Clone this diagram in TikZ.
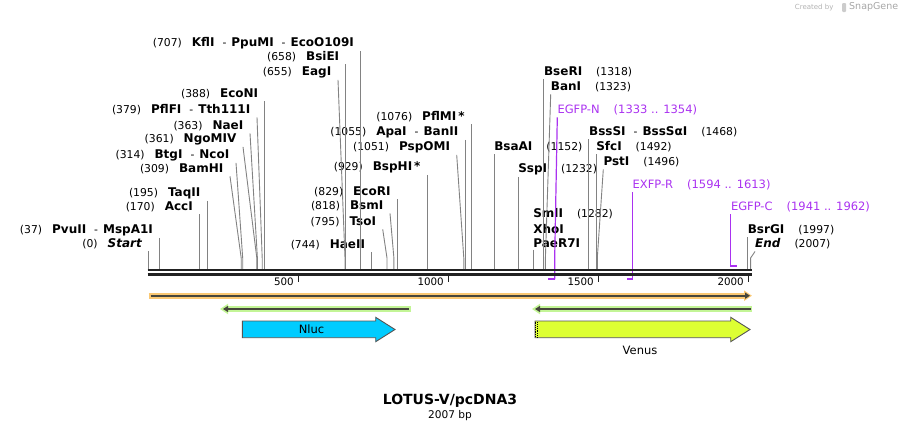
\documentclass[tikz,border=0pt]{standalone}
\usepackage{fontspec}
\setmainfont{DejaVu Sans}
\usetikzlibrary{arrows.meta}

\definecolor{cutline}{RGB}{130,130,130}
\definecolor{rulercolor}{RGB}{34,34,34}
\definecolor{primercolor}{RGB}{170,50,240}
\definecolor{orangehalo}{RGB}{250,200,115}
\definecolor{greenhalo}{RGB}{195,245,150}
\definecolor{featline}{RGB}{70,70,60}
\definecolor{nluccolor}{RGB}{0,204,255}
\definecolor{venuscolor}{RGB}{221,255,51}
\definecolor{featborder}{RGB}{85,85,85}

\newcommand{\bpnum}[1]{{\fontsize{10.8}{12}\selectfont(#1)}}
\newcommand{\enz}[1]{{\fontsize{12}{13}\selectfont\bfseries #1}}
\newcommand{\enzsep}{\hspace{8pt}{\fontsize{10.8}{12}\selectfont-}\hspace{5pt}}

\begin{document}
\begin{tikzpicture}[
    x=1pt, y=-1pt,
    font=\fontsize{11.5}{13}\selectfont,
    %% pixel grid: x = 148.5 + 0.3*bp, ruler at y = 270..274
    lsite/.style={inner sep=0pt, anchor=east},
    rsite/.style={inner sep=0pt, anchor=west},
    primer/.style={inner sep=0pt, anchor=west, text=primercolor},
    cut/.style={draw=cutline, line width=0.9pt},
    pline/.style={draw=primercolor, line width=1.2pt},
    pbar/.style={draw=primercolor, line width=2.2pt},
    ruler/.style={draw=rulercolor, line width=2.2pt},
    tickmark/.style={draw=rulercolor, line width=1.8pt},
    ticklbl/.style={inner sep=0pt, anchor=east, font=\fontsize{10.3}{12}\selectfont},
    orgband/.style={draw=orangehalo, line width=6pt, -{Triangle[length=8pt,width=10pt]}},
    grnband/.style={draw=greenhalo, line width=6pt, {Triangle[length=8pt,width=10pt]}-},
    fwdline/.style={draw=featline, line width=2.2pt, -{Triangle[length=5pt,width=6pt]}},
    revline/.style={draw=featline, line width=2.2pt, {Triangle[length=5pt,width=6pt]}-},
    featbox/.style={draw=featborder, line width=0.9pt},
]
\useasboundingbox (0,0) rectangle (900,432);

%% ── Watermark ────────────────────────────────────────────────────────────
\node[anchor=east, text=black!30, font=\fontsize{7}{8}\selectfont] (cby) at (837,7.5) {Created by};
\fill[black!20, rounded corners=1pt] (842,3) rectangle (846,12);
\node[anchor=west, inner sep=0pt, text=black!35, font=\fontsize{9.5}{10}\selectfont] (sgene) at (849,7) {SnapGene};

%% ── Site positions on the ruler ─────────────────────────────────────────
\coordinate (knee) at (0,258);
\coordinate (s0)    at (148.5,269);
\coordinate (s37)   at (159.6,269);
\coordinate (s170)  at (199.5,269);
\coordinate (s195)  at (207.0,269);
\coordinate (s309)  at (241.2,269);
\coordinate (s314)  at (242.7,269);
\coordinate (s361)  at (256.8,269);
\coordinate (s363)  at (257.4,269);
\coordinate (s379)  at (262.2,269);
\coordinate (s388)  at (264.9,269);
\coordinate (s655)  at (345.0,269);
\coordinate (s658)  at (345.9,269);
\coordinate (s707)  at (360.6,269);
\coordinate (s744)  at (371.7,269);
\coordinate (s795)  at (387.0,269);
\coordinate (s818)  at (393.9,269);
\coordinate (s829)  at (397.2,269);
\coordinate (s929)  at (427.2,269);
\coordinate (s1051) at (463.8,269);
\coordinate (s1055) at (465.0,269);
\coordinate (s1076) at (471.3,269);
\coordinate (s1152) at (494.1,269);
\coordinate (s1232) at (518.1,269);
\coordinate (s1282) at (533.1,269);
\coordinate (s1318) at (543.9,269);
\coordinate (s1323) at (545.4,269);
\coordinate (s1468) at (588.9,269);
\coordinate (s1492) at (596.1,269);
\coordinate (s1496) at (597.3,269);
\coordinate (s1997) at (747.6,269);
\coordinate (s2007) at (750.6,269);

%% ── Left-hand site labels ───────────────────────────────────────────────
\node[lsite] (kfl)   at (354.1,43)  {\bpnum{707}\hspace{10pt}\enz{KflI}\enzsep\enz{PpuMI}\enzsep\enz{EcoO109I}};
\node[lsite] (bsie)  at (339.4,57)  {\bpnum{658}\hspace{10pt}\enz{BsiEI}};
\node[lsite] (eag)   at (331.5,72)  {\bpnum{655}\hspace{10pt}\enz{EagI}};
\node[lsite] (econ)  at (258.4,94)  {\bpnum{388}\hspace{10pt}\enz{EcoNI}};
\node[lsite] (pflf)  at (250.5,110) {\bpnum{379}\hspace{10pt}\enz{PflFI}\enzsep\enz{Tth111I}};
\node[lsite] (nae)   at (243.5,126) {\bpnum{363}\hspace{10pt}\enz{NaeI}};
\node[lsite] (ngo)   at (236.5,139) {\bpnum{361}\hspace{10pt}\enz{NgoMIV}};
\node[lsite] (btg)   at (229.5,155) {\bpnum{314}\hspace{10pt}\enz{BtgI}\enzsep\enz{NcoI}};
\node[lsite] (bam)   at (223.5,169) {\bpnum{309}\hspace{10pt}\enz{BamHI}};
\node[lsite] (taq)   at (200.5,193) {\bpnum{195}\hspace{10pt}\enz{TaqII}};
\node[lsite] (acc)   at (193.0,207) {\bpnum{170}\hspace{10pt}\enz{AccI}};
\node[lsite] (pvu)   at (153.1,230) {\bpnum{37}\hspace{10pt}\enz{PvuII}\enzsep\enz{MspA1I}};
\node[lsite] (start) at (142.0,244) {\bpnum{0}\hspace{10pt}\enz{\itshape Start}};

\node[lsite] (pflm)  at (464.8,117) {\bpnum{1076}\hspace{10pt}\enz{PflMI\,*}};
\node[lsite] (apa)   at (458.5,132) {\bpnum{1055}\hspace{10pt}\enz{ApaI}\enzsep\enz{BanII}};
\node[lsite] (pspo)  at (450.2,147) {\bpnum{1051}\hspace{10pt}\enz{PspOMI}};
\node[lsite] (bsph)  at (420.7,167) {\bpnum{929}\hspace{10pt}\enz{BspHI\,*}};
\node[lsite] (ecor)  at (390.7,192) {\bpnum{829}\hspace{10pt}\enz{EcoRI}};
\node[lsite] (bsm)   at (383.5,206) {\bpnum{818}\hspace{10pt}\enz{BsmI}};
\node[lsite] (tso)   at (376.2,222) {\bpnum{795}\hspace{10pt}\enz{TsoI}};
\node[lsite] (hae)   at (365.2,245) {\bpnum{744}\hspace{10pt}\enz{HaeII}};

%% ── Right-hand site labels ──────────────────────────────────────────────
\node[rsite] (bser)  at (543.9,72)  {\enz{BseRI}\hspace{14pt}\bpnum{1318}};
\node[rsite] (ban)   at (550.7,87)  {\enz{BanI}\hspace{14pt}\bpnum{1323}};
\node[rsite] (bsss)  at (588.9,132) {\enz{BssSI}\enzsep\enz{BssSαI}\hspace{14pt}\bpnum{1468}};
\node[rsite] (bsaa)  at (494.1,147) {\enz{BsaAI}\hspace{14pt}\bpnum{1152}};
\node[rsite] (sfc)   at (596.1,147) {\enz{SfcI}\hspace{14pt}\bpnum{1492}};
\node[rsite] (pst)   at (603.3,162) {\enz{PstI}\hspace{14pt}\bpnum{1496}};
\node[rsite] (ssp)   at (518.1,169) {\enz{SspI}\hspace{14pt}\bpnum{1232}};
\node[rsite] (sml)   at (533.1,214) {\enz{SmlI}\hspace{14pt}\bpnum{1282}};
\node[rsite] (xho)   at (533.1,229) {\enz{XhoI}};
\node[rsite] (paer)  at (533.1,243) {\enz{PaeR7I}};
\node[rsite] (bsrg)  at (747.6,230) {\enz{BsrGI}\hspace{14pt}\bpnum{1997}};
\node[rsite] (endl)  at (755.0,244) {\enz{\itshape End}\hspace{14pt}\bpnum{2007}};

%% ── Primers ─────────────────────────────────────────────────────────────
\node[primer] (egfpn) at (557.3,110) {EGFP-N\hspace{14pt}(1333 .. 1354)};
\node[primer] (exfpr) at (632.4,185) {EXFP-R\hspace{14pt}(1594 .. 1613)};
\node[primer] (egfpc) at (730.8,207) {EGFP-C\hspace{14pt}(1941 .. 1962)};

\coordinate (pnE) at (554.7,279);  \coordinate (pnW) at (548.4,279);
\coordinate (prE) at (632.4,279);  \coordinate (prW) at (626.7,279);
\coordinate (pcW) at (730.8,266);  \coordinate (pcE) at (737.1,266);

\draw[pline] ([yshift=-2pt]egfpn.south west) -- (pnE |- knee) -- (pnE);
\draw[pline] ([yshift=-2pt]exfpr.south west) -- (prE);
\draw[pline] ([yshift=-2pt]egfpc.south west) -- (pcW);
\draw[pbar] ([xshift=0.6pt]pnE) -- (pnW);
\draw[pbar] ([xshift=0.6pt]prE) -- (prW);
\draw[pbar] ([xshift=-0.6pt]pcW) -- (pcE);

%% ── Cut-site connectors ─────────────────────────────────────────────────
\draw[cut] ([xshift=6.5pt,yshift=-2pt]kfl.south east)   -- (s707 |- knee)  -- (s707);
\draw[cut] ([xshift=6.5pt,yshift=-2pt]bsie.south east)  -- (s658 |- knee)  -- (s658);
\draw[cut] ([xshift=6.5pt,yshift=-2pt]eag.south east)   -- (s655 |- knee)  -- (s655);
\draw[cut] ([xshift=6.5pt,yshift=-2pt]econ.south east)  -- (s388 |- knee)  -- (s388);
\draw[cut] ([xshift=6.5pt,yshift=-2pt]pflf.south east)  -- (s379 |- knee)  -- (s379);
\draw[cut] ([xshift=6.5pt,yshift=-2pt]nae.south east)   -- (s363 |- knee)  -- (s363);
\draw[cut] ([xshift=6.5pt,yshift=-2pt]ngo.south east)   -- (s361 |- knee)  -- (s361);
\draw[cut] ([xshift=6.5pt,yshift=-2pt]btg.south east)   -- (s314 |- knee)  -- (s314);
\draw[cut] ([xshift=6.5pt,yshift=-2pt]bam.south east)   -- (s309 |- knee)  -- (s309);
\draw[cut] ([xshift=6.5pt,yshift=-2pt]taq.south east)   -- (s195);
\draw[cut] ([xshift=6.5pt,yshift=-2pt]acc.south east)   -- (s170);
\draw[cut] ([xshift=6.5pt,yshift=-2pt]pvu.south east)   -- (s37);
\draw[cut] ([xshift=6.5pt,yshift=-2pt]start.south east) -- (s0);
\draw[cut] ([xshift=6.5pt,yshift=-2pt]pflm.south east)  -- (s1076);
\draw[cut] ([xshift=6.5pt,yshift=-2pt]apa.south east)   -- (s1055);
\draw[cut] ([xshift=6.5pt,yshift=-2pt]pspo.south east)  -- (s1051 |- knee) -- (s1051);
\draw[cut] ([xshift=6.5pt,yshift=-2pt]bsph.south east)  -- (s929);
\draw[cut] ([xshift=6.5pt,yshift=-2pt]ecor.south east)  -- (s829);
\draw[cut] ([xshift=6.5pt,yshift=-2pt]bsm.south east)   -- (s818 |- knee)  -- (s818);
\draw[cut] ([xshift=6.5pt,yshift=-2pt]tso.south east)   -- (s795 |- knee)  -- (s795);
\draw[cut] ([xshift=6.5pt,yshift=-2pt]hae.south east)   -- (s744);

\draw[cut] ([yshift=-2pt]bser.south west) -- (s1318);
\draw[cut] ([yshift=-2pt]ban.south west)  -- (s1323 |- knee) -- (s1323);
\draw[cut] ([yshift=-2pt]bsss.south west) -- (s1468);
\draw[cut] ([yshift=-2pt]bsaa.south west) -- (s1152);
\draw[cut] ([yshift=-2pt]sfc.south west)  -- (s1492);
\draw[cut] ([yshift=-2pt]pst.south west)  -- (s1496 |- knee) -- (s1496);
\draw[cut] ([yshift=-2pt]ssp.south west)  -- (s1232);
\draw[cut] ([yshift=-2pt]paer.south west) -- (s1282);
\draw[cut] ([yshift=-2pt]bsrg.south west) -- (s1997);
\draw[cut] ([yshift=-2pt]endl.south west) -- (s2007 |- knee) -- (s2007);

%% ── Ruler ───────────────────────────────────────────────────────────────
\coordinate (rulL) at (147.5,270);
\coordinate (rulR) at (751.5,270);
\draw[ruler] (rulL) -- (rulR);
\draw[ruler, line width=3pt] ([yshift=-4pt]rulL) -- ([yshift=-4pt]rulR);

\coordinate (t500)  at (298.5,275);
\coordinate (t1000) at (448.5,275);
\coordinate (t1500) at (598.5,275);
\coordinate (t2000) at (748.5,275);
\draw[tickmark] (t500)  -- ++(0,7);
\draw[tickmark] (t1000) -- ++(0,7);
\draw[tickmark] (t1500) -- ++(0,7);
\draw[tickmark] (t2000) -- ++(0,7);
\node[ticklbl] (l500)  at ([xshift=-4.5pt,yshift=-7pt]t500)  {500};
\node[ticklbl] (l1000) at ([xshift=-4.5pt,yshift=-7pt]t1000) {1000};
\node[ticklbl] (l1500) at ([xshift=-4.5pt,yshift=-7pt]t1500) {1500};
\node[ticklbl] (l2000) at ([xshift=-4.5pt,yshift=-7pt]t2000) {2000};

%% ── Features ────────────────────────────────────────────────────────────
\coordinate (orgL) at (148.5,295.7);  \coordinate (orgR) at (752.0,295.7);
\draw[orgband] (orgL) -- (orgR);
\draw[fwdline] ([xshift=2pt]orgL) -- ([xshift=-2pt]orgR);

\coordinate (gaL) at (220.0,309);  \coordinate (gaR) at (411.0,309);
\draw[grnband] (gaL) -- (gaR);
\draw[revline] ([xshift=3pt]gaL) -- ([xshift=-2pt]gaR);

\coordinate (gbL) at (532.0,309);  \coordinate (gbR) at (752.0,309);
\draw[grnband] (gbL) -- (gbR);
\draw[revline] ([xshift=3pt]gbL) -- ([xshift=-1.5pt]gbR);

\filldraw[featbox, fill=nluccolor]
    (242.3,321) -- (375.7,321) -- (375.7,317.3) -- (395,329.5)
    -- (375.7,341.7) -- (375.7,337.7) -- (242.3,337.7) -- cycle;
\node (nluc) at (311.5,329.5) {Nluc};

\filldraw[featbox, fill=venuscolor]
    (535,321) -- (730.7,321) -- (730.7,317.3) -- (750,329.5)
    -- (730.7,341.7) -- (730.7,337.7) -- (535,337.7) -- cycle;
\draw[black, line width=0.9pt, dash pattern=on 0.9pt off 0.9pt] (535.7,321.5) -- (535.7,337.5);
\draw[black, line width=0.9pt, dash pattern=on 0.9pt off 0.9pt] (537.4,322.4) -- (537.4,337.5);
\node (venus) at (640,350) {Venus};

%% ── Title ───────────────────────────────────────────────────────────────
\node[font=\fontsize{14}{16}\selectfont\bfseries] (title) at (450,401) {LOTUS-V/pcDNA3};
\node[font=\fontsize{10.6}{12}\selectfont] (size) at (450,416) {2007 bp};

\end{tikzpicture}
\end{document}
